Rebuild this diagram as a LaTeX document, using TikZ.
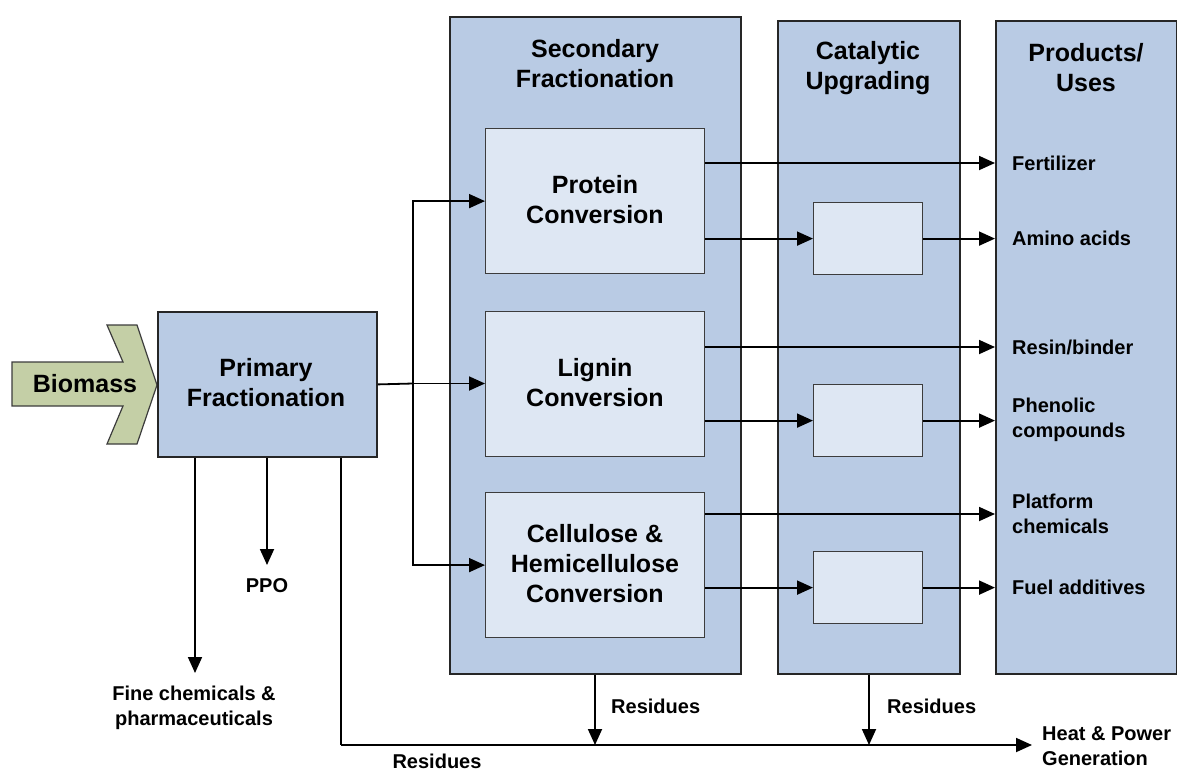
\documentclass[tikz,border=0pt]{standalone}
\usepackage{fontspec}
\setmainfont{Liberation Sans}
\usetikzlibrary{arrows.meta,calc}
\definecolor{panelblue}{RGB}{185,203,228}
\definecolor{innerblue}{RGB}{222,231,243}
\definecolor{biomassgreen}{RGB}{196,207,166}
\definecolor{edgegray}{RGB}{60,60,60}
\tikzset{
  panel/.style={draw=black!85, line width=1.8pt, fill=panelblue, anchor=north west, inner sep=0pt},
  unitbox/.style={draw=edgegray, line width=1.2pt, fill=innerblue, anchor=north west, inner sep=0pt},
  bigtext/.style={font=\fontsize{25}{30}\selectfont\bfseries, align=center, inner sep=0pt},
  smalltext/.style={font=\fontsize{20}{25}\selectfont\bfseries, align=left, inner sep=0pt},
  conn/.style={line width=1.8pt},
  arr/.style={conn, -{Triangle[length=16pt,width=14pt]}}
}
\begin{document}
\begin{tikzpicture}[x=1pt,y=-1pt]
\useasboundingbox (0,0) rectangle (1177,772);

% Biomass block arrow
\filldraw[fill=biomassgreen, draw=edgegray, line width=1.2pt]
  (12,362) -- (123,362) -- (107,325) -- (137,325) -- (157,385)
  -- (137,444) -- (107,444) -- (123,406) -- (12,406) -- cycle;
\node[bigtext] (biomass) at (85,384) {Biomass};

% Primary fractionation
\node[panel, minimum width=219pt, minimum height=145pt] (prim) at (157,311) {};
\node[bigtext] (primt) at (266,383) {Primary\\Fractionation};

% Column panels
\node[panel, minimum width=291pt, minimum height=657pt] (sec) at (449,16) {};
\node[bigtext] (sect) at (595,64) {Secondary\\Fractionation};
\node[panel, minimum width=182pt, minimum height=653pt] (cat) at (777,20) {};
\node[bigtext] (catt) at (868,68) {Catalytic\\Upgrading};
\node[panel, minimum width=181pt, minimum height=653pt] (prod) at (995,20) {};
\node[bigtext] (prodt) at (1086,68) {Products/\\Uses};

% Conversion units
\node[unitbox, minimum width=219pt, minimum height=145pt] (prot) at (485,128) {};
\node[bigtext] at (595,200) {Protein\\Conversion};
\node[unitbox, minimum width=219pt, minimum height=145pt] (lig) at (485,311) {};
\node[bigtext] at (595,383) {Lignin\\Conversion};
\node[unitbox, minimum width=219pt, minimum height=145pt] (cell) at (485,492) {};
\node[bigtext] at (595,564) {Cellulose \&\\Hemicellulose\\Conversion};

% Catalytic units
\node[unitbox, minimum width=109pt, minimum height=72pt] (cat1) at (813,202) {};
\node[unitbox, minimum width=109pt, minimum height=72pt] (cat2) at (813,384) {};
\node[unitbox, minimum width=109pt, minimum height=72pt] (cat3) at (813,551) {};

% Product labels
\node[smalltext, anchor=west] (fert) at (1012,163) {Fertilizer};
\node[smalltext, anchor=west] (amino) at (1012,238) {Amino acids};
\node[smalltext, anchor=west] (resin) at (1012,347) {Resin/binder};
\node[smalltext, anchor=west] (phen) at (1012,420) {Phenolic\\compounds};
\node[smalltext, anchor=west] (plat) at (1012,514) {Platform\\chemicals};
\node[smalltext, anchor=west] (fuel) at (1012,587) {Fuel additives};

% Outputs of the conversion units
\draw[arr] (prot.east |- fert) -- (prod.west |- fert);
\draw[arr] (prot.east |- cat1) -- (cat1.west);
\draw[arr] (cat1.east) -- (prod.west |- cat1);
\draw[arr] (lig.east |- resin) -- (prod.west |- resin);
\draw[arr] (lig.east |- cat2) -- (cat2.west);
\draw[arr] (cat2.east) -- (prod.west |- cat2);
\draw[arr] (cell.east |- plat) -- (prod.west |- plat);
\draw[arr] (cell.east |- cat3) -- (cat3.west);
\draw[arr] (cat3.east) -- (prod.west |- cat3);

% Primary fractionation to the three conversion units
\coordinate (split) at (413,383.5);
\draw[conn] (prim.east) -- (split);
\draw[arr] (split) -- (lig.west |- split);
\draw[arr] (split) |- (prot.west);
\draw[arr] (split) |- (cell.west);

% Side streams of primary fractionation
\node[smalltext, align=center] (fine) at (194,708) {Fine chemicals \&\\pharmaceuticals};
\node[smalltext] (ppo) at (267,586) {PPO};
\coordinate (fineend) at (195,673);
\coordinate (ppoend) at (267,565);
\draw[arr] (prim.south -| fineend) -- (fineend);
\draw[arr] (prim.south -| ppoend) -- (ppoend);

% Residues to heat and power
\node[smalltext, anchor=west] (hp) at (1042,746) {Heat \& Power\\Generation};
\coordinate (corner) at (341,745);
\coordinate (hpend) at (1032,745);
\coordinate (secjoin) at (595,745);
\coordinate (catjoin) at (869,745);
\draw[conn] (prim.south -| corner) -- (corner);
\draw[arr] (corner) -- (hpend);
\draw[arr] (sec.south -| secjoin) -- (secjoin);
\draw[arr] (cat.south -| catjoin) -- (catjoin);
\node[smalltext] (res1) at (437,761) {Residues};
\node[smalltext, anchor=west] (res2) at (611,706) {Residues};
\node[smalltext, anchor=west] (res3) at (887,706) {Residues};
\end{tikzpicture}
\end{document}
